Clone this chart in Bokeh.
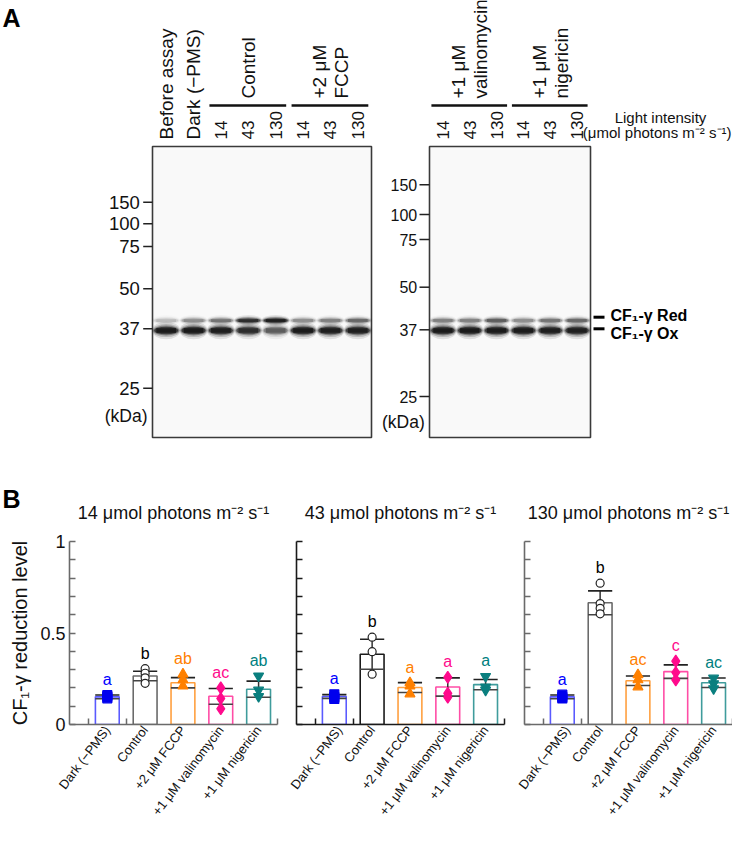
import math
from bokeh.plotting import figure
from bokeh.layouts import column, row
from bokeh.models import FixedTicker, Range1d
from bokeh.core.properties import value
from bokeh.embed import file_html
from bokeh.resources import INLINE

FONT = "Liberation Sans"

# ------------------------------------------------------------------ data: panel A (blot)
left_lanes = ["Before assay", "Dark (−PMS)", "14", "43", "130", "14", "43", "130"]
right_lanes = ["14", "43", "130", "14", "43", "130"]
left_group_names = [["Control"], ["+2 μM", "FCCP"]]
left_group_lanes = [[2, 4], [5, 7]]
right_group_names = [["+1 μM", "valinomycin"], ["+1 μM", "nigericin"]]
right_group_lanes = [[0, 2], [3, 5]]
# relative band intensities read from the blot (oxidised = lower band, reduced = upper band)
left_ox_band = [1.0, 1.0, 0.95, 0.8, 0.5, 1.0, 0.95, 0.95]
left_red_band = [0.15, 0.3, 0.4, 0.8, 0.95, 0.3, 0.35, 0.45]
right_ox_band = [1.0, 1.0, 1.0, 1.0, 0.95, 0.95]
right_red_band = [0.35, 0.35, 0.5, 0.3, 0.4, 0.45]
marker_kda = ["150", "100", "75", "50", "37", "25"]

# ------------------------------------------------------------------ data: panel B (bars)
conditions = ["Dark (−PMS)", "Control", "+2 μM FCCP", "+1 μM valinomycin", "+1 μM nigericin"]
light_levels = ["14", "43", "130"]

mean_14 = [0.151, 0.265, 0.228, 0.154, 0.193]
sd_14 = [0.010, 0.026, 0.028, 0.043, 0.044]
pts_14 = [[0.160, 0.152, 0.143], [0.305, 0.280, 0.255, 0.225], [0.275, 0.244, 0.210],
          [0.200, 0.142, 0.086], [0.265, 0.188, 0.153]]
letters_14 = ["a", "b", "ab", "ac", "ab"]

mean_43 = [0.153, 0.384, 0.202, 0.205, 0.218]
sd_43 = [0.010, 0.082, 0.027, 0.050, 0.028]
pts_43 = [[0.165, 0.150, 0.140], [0.477, 0.398, 0.275], [0.228, 0.210, 0.167],
          [0.258, 0.170, 0.149], [0.263, 0.205, 0.188]]
letters_43 = ["a", "b", "a", "a", "a"]

mean_130 = [0.151, 0.665, 0.239, 0.289, 0.228]
sd_130 = [0.010, 0.065, 0.026, 0.037, 0.026]
pts_130 = [[0.163, 0.150, 0.142], [0.772, 0.661, 0.635, 0.605], [0.272, 0.244, 0.205],
           [0.346, 0.284, 0.244], [0.254, 0.223, 0.196]]
letters_130 = ["a", "b", "ac", "c", "ac"]

# ------------------------------------------------------------------ styles
bar_line = ["#5a5aff", None, "#ffa040", "#ff4da6", "#3f9c9c"]
mark_fill = ["#0000ee", "white", "#ff8000", "#ff0a8c", "#0a7f7f"]
mark_line = ["#0000ee", "#222222", "#ff8000", "#ff0a8c", "#0a7f7f"]
letter_col = ["#0000ff", "#000000", "#ff8000", "#ff0a8c", "#008080"]
markers = ["square", "circle", "triangle", "diamond", "inverted_triangle"]
msize = [9, 8, 10, 12, 10]
axis_col = ["#6a6a6a", "#1a1a1a", "#6a6a6a"]

# ------------------------------------------------------------------ layout (pixels)
A_H = 527            # height of top figure (panel A + panel B headings)
B_H = 298            # height of bar-chart row
FRAME_W, FRAME_H = 208, 188
B_TOP, B_BOTTOM = 14, 96
fig_w = [287, 228, 217]
fig_bl = [69, 9, 9]
fig_br = [10, 11, 0]
frame_centres = [fig_bl[0] + FRAME_W / 2,
                 fig_w[0] + fig_bl[1] + FRAME_W / 2,
                 fig_w[0] + fig_w[1] + fig_bl[2] + FRAME_W / 2]

# ================================================================== panel A figure
pa = figure(width=732, height=A_H, x_range=Range1d(0, 732), y_range=Range1d(-A_H, 0),
            output_backend="svg", toolbar_location=None, min_border=0,
            x_axis_location=None, y_axis_location=None)
pa.grid.visible = False
pa.outline_line_color = None

OX_Y, RED_Y = 330.0, 320.0
LANE_LABEL_BOTTOM = 139
GROUP_LINE_Y = 105
GROUP_TEXT_BOTTOM = 98


def draw_blot(l, r, t, b, ox, red, lanes, gnames, glanes, mk_y, kda_y, lab_right, kda_right, tick_x0, mk_size):
    pa.quad(left=l, right=r, top=-t, bottom=-b, fill_color="#f9f9f9", line_color="#3a3a3a", line_width=1.6)
    n = len(ox)
    pitch = (r - l) / n
    xs = [l + (i + 0.5) * pitch for i in range(n)]
    layers = [(1.04, 2.0, 0.10), (1.0, 1.5, 0.18), (0.95, 1.15, 0.32), (0.88, 0.85, 0.55)]
    for yy, inten, hh in ((RED_Y, red, 5.5), (OX_Y, ox, 8.8)):
        for wf, hf, al in layers:
            pa.ellipse(x=xs, y=[-yy] * n, width=pitch * wf, height=hh * hf, fill_color="#050505",
                       fill_alpha=[al * v for v in inten], line_color=None)
        pa.rect(x=xs, y=[-yy] * n, width=pitch * 0.72, height=hh * 0.5, fill_color="#050505",
                fill_alpha=[0.6 * v for v in inten], line_color=None)
    # lane labels (numbers slightly smaller than words)
    sizes = ["17px" if s.isdigit() else "19px" for s in lanes]
    pa.text(x=xs, y=[-LANE_LABEL_BOTTOM] * n, text=lanes, angle=math.pi / 2, text_align="left",
            text_baseline="middle", text_font=value(FONT), text_font_size=sizes, text_color="#111111")
    # group bars + labels
    for names, (a, c) in zip(gnames, glanes):
        pa.segment(x0=[xs[a] - 11.5], x1=[xs[c] + 10.5], y0=[-GROUP_LINE_Y], y1=[-GROUP_LINE_Y],
                   line_width=2.5, line_color="#111111")
        cx = sum(xs[a:c + 1]) / (c - a + 1)
        k = len(names)
        gx = [cx + (j - (k - 1) / 2) * 22 for j in range(k)]
        pa.text(x=gx, y=[-GROUP_TEXT_BOTTOM] * k, text=names, angle=math.pi / 2, text_align="left",
                text_baseline="middle", text_font=value(FONT), text_font_size="19px", text_color="#111111")
    # molecular weight markers
    m = len(mk_y)
    pa.segment(x0=[tick_x0] * m, x1=[l] * m, y0=[-v for v in mk_y], y1=[-v for v in mk_y],
               line_width=1.5, line_color="#222222")
    pa.text(x=[lab_right] * m, y=[-v for v in mk_y], text=marker_kda, text_align="right",
            text_baseline="middle", text_font=value(FONT), text_font_size=mk_size, text_color="#111111")
    pa.text(x=[kda_right], y=[-kda_y], text=["(kDa)"], text_align="right", text_baseline="middle",
            text_font=value(FONT), text_font_size="17.5px", text_color="#111111")


draw_blot(152, 371, 146, 437, left_ox_band, left_red_band, left_lanes, left_group_names, left_group_lanes,
          [201.7, 223.3, 246, 288.3, 328.3, 387.7], 415, 139.3, 147, 142.7, "18.5px")
draw_blot(429, 590, 146, 437, right_ox_band, right_red_band, right_lanes, right_group_names, right_group_lanes,
          [184.3, 214, 239, 286.7, 329.3, 396], 421.7, 416.7, 424.3, 419, "16px")

# band identity labels
pa.segment(x0=[593, 593], x1=[604, 604], y0=[-316.7, -328.3], y1=[-316.7, -328.3], line_width=3, line_color="#000000")
pa.text(x=[610, 610], y=[-315, -332.7], text=["CF₁-γ Red", "CF₁-γ Ox"], text_align="left", text_baseline="middle",
        text_font=value(FONT), text_font_size="16px", text_font_style="bold", text_color="#000000")
pa.text(x=[660], y=[-116.7], text=["Light intensity"], text_align="center",
        text_baseline="middle", text_font=value(FONT), text_font_size="15px", text_color="#111111")
pa.text(x=[731], y=[-131.7], text=["(μmol photons m⁻² s⁻¹)"], text_align="right",
        text_baseline="middle", text_font=value(FONT), text_font_size="15px", text_color="#111111")
pa.text(x=[2], y=[-3], text=["A"], text_align="left", text_baseline="top", text_font=value(FONT),
        text_font_size="25px", text_font_style="bold", text_color="#000000")

# panel B heading texts (drawn in the top figure, above each bar chart)
pa.text(x=[2], y=[-498], text=["B"], text_align="left", text_baseline="alphabetic", text_font=value(FONT),
        text_font_size="25px", text_font_style="bold", text_color="#000000")
pa.text(x=frame_centres, y=[-512] * 3, text=[f"{lv} μmol photons m⁻² s⁻¹" for lv in light_levels],
        text_align="center", text_baseline="middle", text_font=value(FONT), text_font_size="18px",
        text_color="#111111")


# ================================================================== panel B figures
def bar_panel(k, mean, sd, pts, letters):
    p = figure(width=fig_w[k], height=B_H, x_range=Range1d(0, 5.5), y_range=Range1d(0, 1),
               output_backend="svg", toolbar_location=None,
               min_border_left=fig_bl[k], min_border_right=fig_br[k],
               min_border_top=B_TOP, min_border_bottom=B_BOTTOM)
    p.grid.visible = False
    p.outline_line_color = None
    xs = [1, 2, 3, 4, 5]
    lc = list(bar_line)
    lc[1] = axis_col[k]
    p.vbar(x=xs, top=mean, bottom=0, width=0.63, fill_color="white", line_color=lc, line_width=1.6)
    hi = [m + e for m, e in zip(mean, sd)]
    lo = [m - e for m, e in zip(mean, sd)]
    p.segment(x0=xs, x1=xs, y0=lo, y1=hi, line_color="#333333", line_width=1.5)
    p.segment(x0=[x - 0.32 for x in xs], x1=[x + 0.32 for x in xs], y0=hi, y1=hi, line_color="#222222", line_width=1.6)
    p.segment(x0=[x - 0.32 for x in xs], x1=[x + 0.32 for x in xs], y0=lo, y1=lo, line_color="#444444", line_width=1.6)
    for i in range(5):
        p.scatter(x=[xs[i]] * len(pts[i]), y=pts[i], marker=markers[i], size=msize[i],
                  fill_color=mark_fill[i], line_color=mark_line[i], line_width=1.2)
    tops = [max(h, max(pt)) for h, pt in zip(hi, pts)]
    p.text(x=xs, y=[t + 0.085 for t in tops], text=letters, text_color=letter_col, text_align="center",
           text_baseline="middle", text_font=value(FONT), text_font_size="16px")

    xa = p.xaxis[0]
    xa.ticker = FixedTicker(ticks=xs, minor_ticks=[0.5, 1.5, 5.5])
    xa.major_label_overrides = {x: c for x, c in zip(xs, conditions)}
    xa.major_label_orientation = 0.92
    xa.major_tick_in = 0
    xa.major_tick_out = 0
    xa.minor_tick_in = 6
    xa.minor_tick_out = 0
    xa.axis_line_color = axis_col[k]
    xa.axis_line_width = 1.6
    xa.minor_tick_line_color = axis_col[k]
    xa.minor_tick_line_width = 1.5
    xa.major_label_text_font = FONT
    xa.major_label_text_font_size = "13px"
    xa.major_label_text_color = "#111111"
    xa.major_label_standoff = 3

    ya = p.yaxis[0]
    minor_y = [0.1, 0.2, 0.3, 0.4, 0.6, 0.7, 0.8, 0.9]
    if k == 0:
        ya.ticker = FixedTicker(ticks=[0, 0.5, 1], minor_ticks=minor_y)
    else:
        ya.ticker = FixedTicker(ticks=[], minor_ticks=[0] + minor_y[:4] + [0.5] + minor_y[4:] + [1])
    ya.major_tick_in = 6
    ya.major_tick_out = 0
    ya.minor_tick_in = 6
    ya.minor_tick_out = 0
    ya.axis_line_color = axis_col[k]
    ya.axis_line_width = 1.6
    ya.major_tick_line_color = axis_col[k]
    ya.minor_tick_line_color = axis_col[k]
    ya.major_tick_line_width = 1.5
    ya.minor_tick_line_width = 1.5
    if k == 0:
        ya.major_label_overrides = {0: "0", 0.5: "0.5", 1: "1"}
        ya.major_label_text_font = FONT
        ya.major_label_text_font_size = "18px"
        ya.major_label_text_color = "#111111"
        ya.major_label_standoff = 4
        ya.axis_label = "CF₁-γ reduction level"
        ya.axis_label_text_font = FONT
        ya.axis_label_text_font_size = "20px"
        ya.axis_label_text_font_style = "normal"
        ya.axis_label_text_color = "#111111"
        ya.axis_label_standoff = 6
    else:
        ya.major_label_standoff = 0
    return p


f1 = bar_panel(0, mean_14, sd_14, pts_14, letters_14)
f2 = bar_panel(1, mean_43, sd_43, pts_43, letters_43)
f3 = bar_panel(2, mean_130, sd_130, pts_130, letters_130)

layout = column(pa, row(f1, f2, f3))
open("out.html", "w").write(file_html(layout, INLINE))
